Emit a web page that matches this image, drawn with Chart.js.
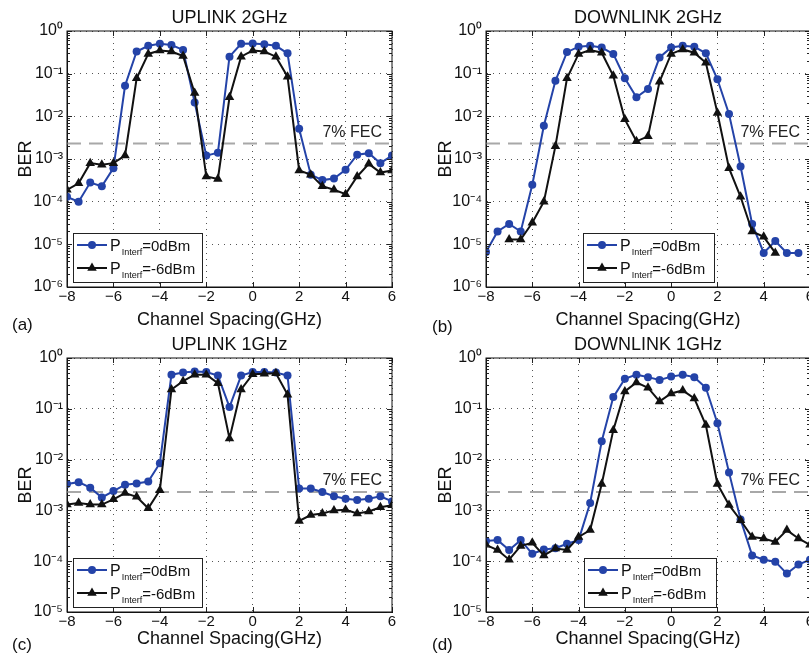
<!DOCTYPE html>
<html>
<head>
<meta charset="utf-8">
<script src="https://cdn.jsdelivr.net/npm/chart.js@4.4.0/dist/chart.umd.min.js"></script>
<style>
html, body { margin: 0; padding: 0; background: #fff; overflow: hidden; width: 809px; height: 655px; }
.panel { position: absolute; }
</style>
</head>
<body>
<div class="panel" style="left:0;top:0"><canvas id="chartA" width="400" height="335"></canvas></div>
<div class="panel" style="left:400px;top:0"><canvas id="chartB" width="420" height="335"></canvas></div>
<div class="panel" style="left:0;top:335px"><canvas id="chartC" width="400" height="320"></canvas></div>
<div class="panel" style="left:400px;top:335px"><canvas id="chartD" width="420" height="320"></canvas></div>
<script>
// channel spacing (GHz), one point every 0.5 GHz
const xSpacing = [-8, -7.5, -7, -6.5, -6, -5.5, -5, -4.5, -4, -3.5, -3, -2.5, -2, -1.5, -1, -0.5,
    0, 0.5, 1, 1.5, 2, 2.5, 3, 3.5, 4, 4.5, 5, 5.5, 6];
const xTicks = [-8, -6, -4, -2, 0, 2, 4, 6];
const yTicksTop = [1e-6, 1e-5, 1e-4, 1e-3, 1e-2, 1e-1, 1];
const yTicksBottom = [1e-5, 1e-4, 1e-3, 1e-2, 1e-1, 1];
const fecLevel = 2.3e-3;
const fecLabel = '7% FEC';
const legendLabels = ['=0dBm', '=-6dBm'];

// (a) UPLINK 2GHz
const ul2Blue = [1.3e-4, 1.0e-4, 2.8e-4, 2.3e-4, 6.1e-4, 5.2e-2, 0.33, 0.45, 0.50, 0.47, 0.36, 0.021, 1.2e-3, 1.4e-3,
    0.25, 0.50, 0.51, 0.49, 0.45, 0.30, 5.1e-3, 4.3e-4, 3.2e-4, 3.5e-4, 5.6e-4, 1.26e-3, 1.37e-3, 8.0e-4, 1.2e-3];
const ul2Black = [1.9e-4, 2.7e-4, 8.0e-4, 7.3e-4, 8.0e-4, 1.2e-3, 0.078, 0.29, 0.35, 0.33, 0.26, 0.035, 3.9e-4, 3.4e-4,
    0.028, 0.25, 0.35, 0.33, 0.25, 0.085, 5.4e-4, 4.3e-4, 2.3e-4, 1.9e-4, 1.5e-4, 3.9e-4, 7.7e-4, 4.8e-4, 5.4e-4];

// (b) DOWNLINK 2GHz
const dl2Blue = [6.6e-6, 2.0e-5, 3.0e-5, 2.0e-5, 2.5e-4, 6.0e-3, 0.068, 0.32, 0.43, 0.45, 0.41, 0.29, 0.078, 0.028,
    0.044, 0.24, 0.41, 0.45, 0.43, 0.30, 0.074, 0.0114, 6.7e-4, 3.0e-5, 6.3e-6, 1.2e-5, 6.3e-6, 6.3e-6, null];
const dl2Black = [null, null, 1.3e-5, 1.3e-5, 3.2e-5, 1.0e-4, 2.0e-3, 0.078, 0.29, 0.36, 0.31, 0.089, 8.5e-3, 2.6e-3,
    3.4e-3, 0.065, 0.29, 0.37, 0.31, 0.18, 0.012, 6.1e-4, 1.3e-4, 2.0e-5, 1.5e-5, 6.3e-6, null, null, null];

// (c) UPLINK 1GHz
const ul1Blue = [3.3e-3, 3.6e-3, 2.8e-3, 1.8e-3, 2.4e-3, 3.2e-3, 3.4e-3, 3.7e-3, 8.5e-3, 0.47, 0.52, 0.54, 0.53, 0.45,
    0.108, 0.45, 0.53, 0.53, 0.52, 0.45, 2.7e-3, 2.7e-3, 2.3e-3, 1.9e-3, 1.7e-3, 1.6e-3, 1.7e-3, 1.9e-3, 1.5e-3];
const ul1Black = [1.3e-3, 1.4e-3, 1.3e-3, 1.3e-3, 1.65e-3, 2.2e-3, 1.85e-3, 1.1e-3, 2.5e-3, 0.24, 0.35, 0.47, 0.47, 0.32,
    0.026, 0.24, 0.48, 0.49, 0.50, 0.19, 6.2e-4, 8.1e-4, 8.7e-4, 1.0e-3, 1.03e-3, 8.7e-4, 9.5e-4, 1.15e-3, 1.26e-3];

// (d) DOWNLINK 1GHz
const dl1Blue = [2.5e-4, 2.6e-4, 1.66e-4, 2.6e-4, 1.4e-4, 1.7e-4, 1.8e-4, 2.2e-4, 2.6e-4, 1.4e-3, 0.023, 0.17, 0.39, 0.47,
    0.42, 0.37, 0.43, 0.47, 0.42, 0.26, 0.052, 5.6e-3, 6.6e-4, 1.3e-4, 1.07e-4, 9.8e-5, 5.7e-5, 8.6e-5, 1.07e-4];
const dl1Black = [2.1e-4, 1.66e-4, 1.07e-4, 2.0e-4, 2.3e-4, 1.3e-4, 1.77e-4, 1.66e-4, 3.0e-4, 4.1e-4, 3.3e-3, 0.038, 0.22, 0.33,
    0.26, 0.14, 0.20, 0.23, 0.16, 0.048, 3.3e-3, 1.28e-3, 6.4e-4, 3.0e-4, 2.8e-4, 2.4e-4, 4.1e-4, 2.8e-4, 2.1e-4];

const blueColor = '#2443a8';
const blackColor = '#111111';
const fontFamily = '"Liberation Sans", Arial, sans-serif';
const supChars = { '-': '\u207B', '0': '\u2070', '1': '\u00B9', '2': '\u00B2', '3': '\u00B3', '4': '\u2074',
    '5': '\u2075', '6': '\u2076', '7': '\u2077', '8': '\u2078', '9': '\u2079' };

function decadeLabel(v) {
    const e = Math.round(Math.log10(v));
    return '10' + String(e).split('').map(c => supChars[c]).join('');
}

function drawTriangle(ctx, x, y, r) {
    ctx.beginPath();
    ctx.moveTo(x, y - r);
    ctx.lineTo(x + r * Math.sin(2 * Math.PI / 3), y - r * Math.cos(2 * Math.PI / 3));
    ctx.lineTo(x + r * Math.sin(4 * Math.PI / 3), y - r * Math.cos(4 * Math.PI / 3));
    ctx.closePath();
    ctx.fill();
}

// frame, inner ticks, titles, FEC label and the legend box
const decor = {
    id: 'decor',
    afterDraw(chart, args, o) {
        const ctx = chart.ctx;
        const a = chart.chartArea;
        const xs = chart.scales.x, ys = chart.scales.y;
        ctx.save();

        // small inner ticks (log minor ticks on y, major ticks on x)
        ctx.strokeStyle = '#222';
        ctx.lineWidth = 1;
        ctx.beginPath();
        o.yTicks.forEach(v => {
            for (let k = 1; k <= 9; k++) {
                const val = v * k;
                if (val > ys.max * 1.0001) continue;
                const py = Math.round(ys.getPixelForValue(val)) + 0.5;
                const len = k === 1 ? 5 : 3;
                ctx.moveTo(a.left, py); ctx.lineTo(a.left + len, py);
                ctx.moveTo(a.right, py); ctx.lineTo(a.right - len, py);
            }
        });
        xTicks.forEach(v => {
            const px = Math.round(xs.getPixelForValue(v)) + 0.5;
            ctx.moveTo(px, a.bottom); ctx.lineTo(px, a.bottom - 5);
            ctx.moveTo(px, a.top); ctx.lineTo(px, a.top + 5);
        });
        ctx.stroke();

        // box
        ctx.strokeStyle = '#111';
        ctx.strokeRect(a.left, a.top, a.right - a.left, a.bottom - a.top);

        // title and panel letter
        ctx.fillStyle = '#111';
        ctx.font = '18px ' + fontFamily;
        ctx.textAlign = 'center';
        ctx.textBaseline = 'middle';
        ctx.fillText(o.title, (a.left + a.right) / 2, o.titleY);
        ctx.font = '17px ' + fontFamily;
        ctx.textAlign = 'left';
        ctx.fillText(o.letter, o.letterX, o.letterY);

        // FEC label
        ctx.font = '16px ' + fontFamily;
        ctx.textAlign = 'right';
        ctx.fillStyle = '#222';
        ctx.fillText(fecLabel, a.right - 10, ys.getPixelForValue(fecLevel) - 11);

        // legend
        const bx = a.left + o.legendLeft;
        const by = a.bottom - 54;
        const bw = o.legendWidth, bh = 49;
        ctx.fillStyle = '#fff';
        ctx.fillRect(bx, by, bw, bh);
        ctx.strokeStyle = '#222';
        ctx.lineWidth = 1;
        ctx.strokeRect(bx + 0.5, by + 0.5, bw, bh);
        [blueColor, blackColor].forEach((col, i) => {
            const ry = by + 12 + i * 23;
            ctx.strokeStyle = col;
            ctx.fillStyle = col;
            ctx.lineWidth = 2;
            ctx.beginPath();
            ctx.moveTo(bx + 4, ry); ctx.lineTo(bx + 34, ry);
            ctx.stroke();
            if (i === 0) {
                ctx.beginPath();
                ctx.arc(bx + 19, ry, 4, 0, 2 * Math.PI);
                ctx.fill();
            } else {
                drawTriangle(ctx, bx + 19, ry, 5.5);
            }
            ctx.fillStyle = '#111';
            ctx.textAlign = 'left';
            ctx.textBaseline = 'alphabetic';
            ctx.font = '16px ' + fontFamily;
            let tx = bx + 37;
            ctx.fillText('P', tx, ry + 6);
            tx += ctx.measureText('P').width;
            ctx.font = '9px ' + fontFamily;
            ctx.fillText('Interf', tx + 1, ry + 10);
            tx += ctx.measureText('Interf').width + 1;
            ctx.font = '15px ' + fontFamily;
            ctx.fillText(legendLabels[i], tx, ry + 6);
        });
        ctx.restore();
    }
};

function makePanel(id, cfg) {
    const tickFont = { family: fontFamily, size: 15 };
    const titleFont = { family: fontFamily, size: 18 };
    return new Chart(document.getElementById(id), {
        type: 'line',
        data: {
            datasets: [{
                label: 'black',
                data: xSpacing.map((x, i) => ({ x: x, y: cfg.black[i] })),
                borderColor: blackColor,
                backgroundColor: blackColor,
                borderWidth: 2,
                pointStyle: 'triangle',
                pointRadius: 5.5,
                pointBorderWidth: 0,
                tension: 0
            }, {
                label: 'blue',
                data: xSpacing.map((x, i) => ({ x: x, y: cfg.blue[i] })),
                borderColor: blueColor,
                backgroundColor: blueColor,
                borderWidth: 2,
                pointStyle: 'circle',
                pointRadius: 4,
                pointBorderWidth: 0,
                tension: 0
            }, {
                label: 'fec',
                data: [{ x: -8, y: fecLevel }, { x: 6, y: fecLevel }],
                borderColor: '#a8a8a8',
                borderWidth: 2,
                borderDash: [14, 8],
                pointRadius: 0
            }]
        },
        options: {
            responsive: false,
            animation: false,
            events: [],
            layout: { padding: { top: cfg.padTop, right: cfg.padRight, left: 0, bottom: 0 } },
            plugins: {
                legend: { display: false },
                tooltip: { enabled: false },
                decor: {
                    title: cfg.title, titleY: cfg.titleY,
                    letter: cfg.letter, letterX: cfg.letterX, letterY: cfg.letterY,
                    legendLeft: cfg.legendLeft, legendWidth: cfg.legendWidth,
                    yTicks: cfg.yTicks
                }
            },
            scales: {
                x: {
                    type: 'linear',
                    min: -8,
                    max: 6,
                    afterBuildTicks: s => { s.ticks = xTicks.map(v => ({ value: v })); },
                    afterFit: s => { s.height = cfg.xAxisHeight; },
                    ticks: {
                        callback: v => String(v).replace('-', '\u2212'),
                        font: tickFont, color: '#111', padding: 1, maxRotation: 0, autoSkip: false
                    },
                    grid: { drawTicks: false, color: '#555', lineWidth: 1 },
                    border: { color: '#111', dash: [1, 5] },
                    title: {
                        display: true, text: 'Channel Spacing(GHz)', font: titleFont, color: '#111',
                        padding: { top: 0, bottom: cfg.xTitlePad }
                    }
                },
                y: {
                    type: 'logarithmic',
                    min: cfg.yTicks[0],
                    max: 1,
                    afterBuildTicks: s => { s.ticks = cfg.yTicks.map(v => ({ value: v })); },
                    afterFit: s => { s.width = cfg.yAxisWidth; },
                    ticks: {
                        callback: v => decadeLabel(v),
                        font: { family: fontFamily, size: 16 }, color: '#111', padding: 4, autoSkip: false
                    },
                    grid: { drawTicks: false, color: '#555', lineWidth: 1 },
                    border: { color: '#111', dash: [1, 5] },
                    title: {
                        display: true, text: 'BER', font: titleFont, color: '#111',
                        padding: { top: cfg.yTitlePad, bottom: 0 }
                    }
                }
            }
        },
        plugins: [decor]
    });
}

makePanel('chartA', {
    title: 'UPLINK 2GHz', letter: '(a)', blue: ul2Blue, black: ul2Black, yTicks: yTicksTop,
    padTop: 31, padRight: 8, yAxisWidth: 67, xAxisHeight: 48, xTitlePad: 4, yTitlePad: 15,
    titleY: 18, letterX: 12, letterY: 325, legendLeft: 6, legendWidth: 129
});
makePanel('chartB', {
    title: 'DOWNLINK 2GHz', letter: '(b)', blue: dl2Blue, black: dl2Black, yTicks: yTicksTop,
    padTop: 31, padRight: 10, yAxisWidth: 86, xAxisHeight: 48, xTitlePad: 4, yTitlePad: 35,
    titleY: 18, letterX: 32, letterY: 327, legendLeft: 97, legendWidth: 131
});
makePanel('chartC', {
    title: 'UPLINK 1GHz', letter: '(c)', blue: ul1Blue, black: ul1Black, yTicks: yTicksBottom,
    padTop: 23, padRight: 8, yAxisWidth: 67, xAxisHeight: 43, xTitlePad: 5, yTitlePad: 15,
    titleY: 10, letterX: 12, letterY: 310, legendLeft: 6, legendWidth: 129
});
makePanel('chartD', {
    title: 'DOWNLINK 1GHz', letter: '(d)', blue: dl1Blue, black: dl1Black, yTicks: yTicksBottom,
    padTop: 23, padRight: 10, yAxisWidth: 86, xAxisHeight: 43, xTitlePad: 5, yTitlePad: 35,
    titleY: 10, letterX: 32, letterY: 310, legendLeft: 98, legendWidth: 132
});
</script>
</body>
</html>
